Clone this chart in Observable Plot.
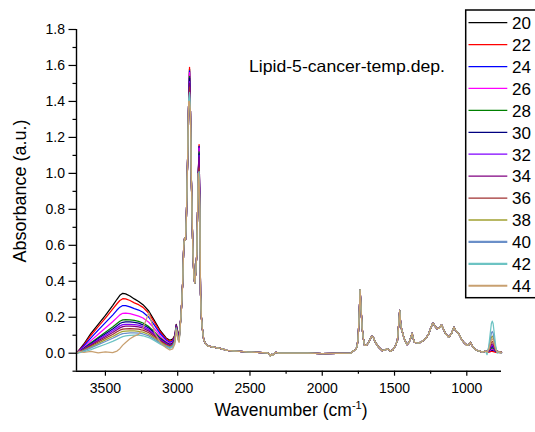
<!DOCTYPE html>
<html>
<head>
<meta charset="utf-8">
<script src="https://cdn.jsdelivr.net/npm/d3@7"></script>
<script src="https://cdn.jsdelivr.net/npm/@observablehq/plot@0.6"></script>
<style>
  html, body { margin: 0; padding: 0; background: #fff; }
  svg { display: block; }
</style>
</head>
<body>
<script>
// ---- series labels and colours ----
const temps = ["20", "22", "24", "26", "28", "30", "32", "34", "36", "38", "40", "42", "44"];
const colors = ["#000000", "#ff0000", "#0000ff", "#ff00ff", "#008000", "#000080", "#8000ff", "#800080",
                "#a03030", "#a0a030", "#6a8fc8", "#6cc3c3", "#c8a070"];

// ---- tick values ----
const xTicks = [3500, 3000, 2500, 2000, 1500, 1000];
const xMinor = [3250, 2750, 2250, 1750, 1250];
const yTicks = [0.0, 0.2, 0.4, 0.6, 0.8, 1.0, 1.2, 1.4, 1.6, 1.8];
const yMinor = [-0.1, 0.1, 0.3, 0.5, 0.7, 0.9, 1.1, 1.3, 1.5, 1.7];

// ---- O-H stretching band (per series) ----
const wnOH = [3700, 3680, 3650, 3600, 3550, 3500, 3450, 3420, 3400, 3380, 3360, 3330, 3300, 3270, 3240, 3200, 3160, 3120, 3080, 3055, 3035, 3020, 3010, 2998, 2990];
const oh20 = [0.0, 0.02, 0.05, 0.11, 0.16, 0.21, 0.265, 0.30, 0.322, 0.333, 0.33, 0.318, 0.302, 0.288, 0.27, 0.235, 0.18, 0.125, 0.085, 0.072, 0.078, 0.10, 0.16, 0.115, 0.10];
const oh22 = [0.0, 0.018, 0.045, 0.10, 0.148, 0.195, 0.245, 0.275, 0.293, 0.303, 0.302, 0.293, 0.28, 0.27, 0.255, 0.222, 0.17, 0.118, 0.08, 0.066, 0.072, 0.095, 0.158, 0.11, 0.095];
const oh24 = [0.0, 0.015, 0.04, 0.085, 0.128, 0.17, 0.212, 0.24, 0.256, 0.265, 0.265, 0.258, 0.248, 0.24, 0.228, 0.2, 0.155, 0.108, 0.074, 0.06, 0.066, 0.09, 0.156, 0.105, 0.09];
const oh26 = [0.0, 0.012, 0.032, 0.07, 0.105, 0.14, 0.175, 0.198, 0.213, 0.222, 0.223, 0.22, 0.213, 0.206, 0.196, 0.172, 0.135, 0.095, 0.066, 0.054, 0.06, 0.085, 0.154, 0.1, 0.085];
const oh28 = [0.0, 0.01, 0.027, 0.058, 0.088, 0.117, 0.146, 0.165, 0.178, 0.185, 0.187, 0.186, 0.182, 0.177, 0.168, 0.148, 0.118, 0.084, 0.06, 0.049, 0.055, 0.08, 0.152, 0.097, 0.082];
const oh30 = [0.0, 0.01, 0.025, 0.053, 0.082, 0.108, 0.135, 0.153, 0.165, 0.172, 0.174, 0.174, 0.171, 0.167, 0.158, 0.14, 0.112, 0.08, 0.057, 0.047, 0.053, 0.078, 0.15, 0.095, 0.08];
const oh32 = [0.0, 0.009, 0.023, 0.049, 0.075, 0.1, 0.125, 0.141, 0.152, 0.159, 0.161, 0.161, 0.159, 0.156, 0.148, 0.131, 0.105, 0.075, 0.054, 0.044, 0.05, 0.075, 0.148, 0.093, 0.078];
const oh34 = [0.0, 0.008, 0.021, 0.045, 0.069, 0.092, 0.115, 0.131, 0.141, 0.148, 0.15, 0.15, 0.149, 0.146, 0.139, 0.123, 0.099, 0.071, 0.051, 0.042, 0.048, 0.073, 0.146, 0.09, 0.076];
const oh36 = [0.0, 0.007, 0.019, 0.04, 0.062, 0.083, 0.104, 0.119, 0.128, 0.134, 0.136, 0.137, 0.136, 0.134, 0.128, 0.114, 0.092, 0.066, 0.047, 0.038, 0.045, 0.07, 0.144, 0.088, 0.074];
const oh38 = [0.0, 0.006, 0.016, 0.035, 0.055, 0.074, 0.093, 0.106, 0.115, 0.121, 0.123, 0.124, 0.124, 0.122, 0.117, 0.104, 0.084, 0.06, 0.043, 0.035, 0.042, 0.067, 0.142, 0.085, 0.072];
const oh40 = [0.0, 0.005, 0.013, 0.03, 0.048, 0.065, 0.083, 0.095, 0.103, 0.109, 0.111, 0.113, 0.113, 0.112, 0.107, 0.096, 0.077, 0.055, 0.039, 0.031, 0.038, 0.063, 0.14, 0.082, 0.07];
const oh42 = [0.0, 0.003, 0.008, 0.02, 0.035, 0.05, 0.066, 0.077, 0.085, 0.092, 0.096, 0.099, 0.1, 0.1, 0.097, 0.087, 0.07, 0.05, 0.034, 0.026, 0.033, 0.058, 0.135, 0.078, 0.065];
const oh44 = [0.0, 0.012, 0.004, 0.01, 0.002, 0.008, 0.003, 0.012, 0.025, 0.045, 0.06, 0.08, 0.095, 0.105, 0.14, 0.225, 0.115, 0.06, 0.03, 0.018, 0.024, 0.05, 0.13, 0.075, 0.06];
const ohBands = [oh20, oh22, oh24, oh26, oh28, oh30, oh32, oh34, oh36, oh38, oh40, oh42, oh44];

// ---- C-H stretching region (shared profile) and its two peak maxima (per series) ----
const wnCH = [2976, 2965, 2958, 2952, 2946, 2940, 2932, 2924, 2912, 2905, 2896, 2888, 2882, 2875, 2868, 2862, 2857, 2847, 2842, 2836, 2830, 2820, 2805, 2790, 2760, 2727, 2700, 2658, 2600, 2520, 2450, 2380, 2365, 2358, 2350, 2340, 2330, 2320, 2300, 2250, 2200, 2100, 2000, 1900, 1800];
const chBand = [0.22, 0.40, 0.60, 0.64, 0.63, 0.75, 1.05, 1.40, 1.35, 0.95, 0.60, 0.43, 0.39, 0.45, 0.55, 0.80, 1.00, 0.80, 0.33, 0.20, 0.14, 0.075, 0.05, 0.04, 0.035, 0.03, 0.025, 0.016, 0.012, 0.007, 0.004, 0.002, -0.005, -0.015, -0.005, -0.012, 0.0, 0.005, 0.0, 0.0, 0.001, 0.0, -0.002, -0.001, 0.0];
const wnPeak1 = 2918;
const peak1 = [1.58, 1.59, 1.57, 1.56, 1.54, 1.53, 1.51, 1.50, 1.48, 1.42, 1.44, 1.45, 1.40];
const wnPeak2 = 2852;
const peak2 = [1.15, 1.16, 1.15, 1.14, 1.12, 1.11, 1.10, 1.09, 1.03, 0.98, 1.00, 1.01, 0.96];

// ---- fingerprint region (shared profile) ----
const wnFP = [1790, 1770, 1760, 1752, 1745, 1738, 1731, 1724, 1717, 1708, 1694, 1678, 1665, 1655, 1645, 1632, 1620, 1609, 1586, 1565, 1551, 1540, 1528, 1510, 1493, 1480, 1470, 1464, 1458, 1452, 1436, 1420, 1413, 1400, 1390, 1378, 1370, 1362, 1345, 1332, 1310, 1286, 1265, 1251, 1240, 1233, 1220, 1205, 1190, 1175, 1165, 1147, 1124, 1105, 1090, 1080, 1066, 1050, 1032, 1015, 997, 985, 975, 965, 956, 940, 928, 910, 893, 871];
const fpBand = [0.012, 0.018, 0.035, 0.08, 0.2, 0.353, 0.24, 0.14, 0.09, 0.045, 0.043, 0.061, 0.085, 0.095, 0.085, 0.06, 0.045, 0.033, 0.015, 0.018, 0.024, 0.02, 0.011, 0.02, 0.043, 0.07, 0.17, 0.238, 0.17, 0.136, 0.089, 0.055, 0.048, 0.06, 0.08, 0.111, 0.08, 0.061, 0.058, 0.056, 0.065, 0.08, 0.105, 0.136, 0.16, 0.167, 0.15, 0.136, 0.14, 0.158, 0.14, 0.108, 0.089, 0.11, 0.145, 0.13, 0.117, 0.1, 0.071, 0.055, 0.043, 0.048, 0.061, 0.045, 0.033, 0.02, 0.015, 0.012, 0.006, 0.012];

// ---- ~830 cm-1 band (per series) ----
const wn830 = [860, 848, 838, 830, 824, 818, 810, 800, 790, 775, 760];
const b20 = [0.008, 0.01, 0.012, 0.014, 0.015, 0.014, 0.012, 0.01, 0.012, 0.008, 0.004];
const b22 = [0.006, 0.006, 0.008, 0.01, 0.01, 0.009, 0.007, 0.005, 0.006, 0.003, 0.0];
const b24 = [0.008, 0.01, 0.015, 0.019, 0.02, 0.019, 0.015, 0.01, 0.01, 0.008, 0.005];
const b26 = [0.008, 0.011, 0.017, 0.022, 0.024, 0.022, 0.017, 0.011, 0.01, 0.008, 0.005];
const b28 = [0.008, 0.012, 0.021, 0.028, 0.03, 0.028, 0.021, 0.012, 0.01, 0.008, 0.005];
const b30 = [0.008, 0.013, 0.025, 0.034, 0.037, 0.034, 0.025, 0.013, 0.01, 0.008, 0.005];
const b32 = [0.008, 0.014, 0.028, 0.04, 0.043, 0.04, 0.028, 0.014, 0.01, 0.008, 0.005];
const b34 = [0.008, 0.016, 0.034, 0.048, 0.052, 0.048, 0.034, 0.016, 0.01, 0.008, 0.005];
const b36 = [0.008, 0.018, 0.042, 0.06, 0.065, 0.06, 0.042, 0.018, 0.01, 0.008, 0.005];
const b38 = [0.006, 0.024, 0.06, 0.088, 0.095, 0.088, 0.06, 0.024, 0.008, 0.008, 0.005];
const b40 = [0.004, 0.03, 0.076, 0.112, 0.121, 0.112, 0.076, 0.03, 0.006, 0.006, 0.004];
const b42 = [-0.008, 0.04, 0.11, 0.165, 0.178, 0.165, 0.11, 0.04, 0.0, 0.004, 0.0];
const b44 = [0.006, 0.02, 0.05, 0.074, 0.08, 0.074, 0.05, 0.02, 0.008, 0.008, 0.005];
const bands830 = [b20, b22, b24, b26, b28, b30, b32, b34, b36, b38, b40, b42, b44];

// ---- assemble long table ----
const rows = [];
temps.forEach((t, i) => {
  const s = [];
  wnOH.forEach((w, j) => s.push({t, wn: w, a: ohBands[i][j]}));
  wnCH.forEach((w, j) => s.push({t, wn: w, a: chBand[j]}));
  s.push({t, wn: wnPeak1, a: peak1[i]});
  s.push({t, wn: wnPeak2, a: peak2[i]});
  wnFP.forEach((w, j) => s.push({t, wn: w, a: fpBand[j]}));
  wn830.forEach((w, j) => s.push({t, wn: w, a: bands830[i][j]}));
  s.sort((p, q) => q.wn - p.wn);
  rows.push(...s);
});

const FONT = "'Liberation Sans', Arial, Helvetica, sans-serif";

const chart = Plot.plot({
  width: 535,
  height: 432,
  marginLeft: 76,
  marginRight: 34,
  marginTop: 29,
  marginBottom: 61.3,
  style: {background: "#fff", color: "#000", fontFamily: FONT, fontSize: "14px"},
  x: {domain: [3700, 760]},
  y: {domain: [-0.1, 1.8]},
  color: {type: "ordinal", domain: temps, range: colors},
  marks: [
    Plot.line(rows, {x: "wn", y: "a", z: "t", stroke: "t", strokeWidth: 1.25}),
    Plot.axisX(xTicks, {tickSize: 5, tickPadding: 7, tickFormat: d => String(d), label: null, strokeWidth: 1.2}),
    Plot.axisX(xMinor, {tickSize: 3, tickFormat: () => "", label: null, strokeWidth: 1.2}),
    Plot.axisY(yTicks, {tickSize: 7.5, tickPadding: 4, tickFormat: d3.format(".1f"), label: null, strokeWidth: 1.2}),
    Plot.axisY(yMinor, {tickSize: 3.5, tickFormat: () => "", label: null, strokeWidth: 1.2}),
    Plot.ruleX([3700], {y1: -0.1, y2: 1.8, stroke: "#000", strokeWidth: 1.4}),
    Plot.ruleY([-0.1], {stroke: "#000", strokeWidth: 1.4})
  ]
});
document.body.appendChild(chart);

const svg = d3.select(chart);

// in-plot title
svg.append("text")
  .attr("x", 249).attr("y", 72)
  .attr("text-anchor", "start")
  .attr("font-family", FONT).attr("font-size", 16.5)
  .attr("textLength", 196).attr("lengthAdjust", "spacingAndGlyphs")
  .attr("fill", "#000")
  .text("Lipid-5-cancer-temp.dep.");

// x axis title
const xl = svg.append("text")
  .attr("x", 291).attr("y", 415.5)
  .attr("text-anchor", "middle")
  .attr("font-family", FONT).attr("font-size", 17.5).attr("fill", "#000");
xl.append("tspan").text("Wavenumber (cm");
xl.append("tspan").attr("font-size", 11).attr("dy", -7).text("-1");
xl.append("tspan").attr("dy", 7).text(")");

// y axis title
svg.append("text")
  .attr("transform", "translate(26,191) rotate(-90)")
  .attr("text-anchor", "middle")
  .attr("font-family", FONT).attr("font-size", 18).attr("fill", "#000")
  .text("Absorbance (a.u.)");

// legend
const lg = svg.append("g");
lg.append("rect")
  .attr("x", 465.7).attr("y", 10).attr("width", 80).attr("height", 287.7)
  .attr("fill", "#fff").attr("stroke", "#000").attr("stroke-width", 1.5);
temps.forEach((t, i) => {
  const y = 22.7 + i * 21.92;
  lg.append("line")
    .attr("x1", 468.5).attr("x2", 507.3).attr("y1", y).attr("y2", y)
    .attr("stroke", colors[i]).attr("stroke-width", i >= 10 ? 2.2 : 1.3);
  lg.append("text")
    .attr("x", 512).attr("y", y + 6.3)
    .attr("text-anchor", "start")
    .attr("font-family", FONT).attr("font-size", 17).attr("fill", "#000")
    .text(t);
});
</script>
</body>
</html>
